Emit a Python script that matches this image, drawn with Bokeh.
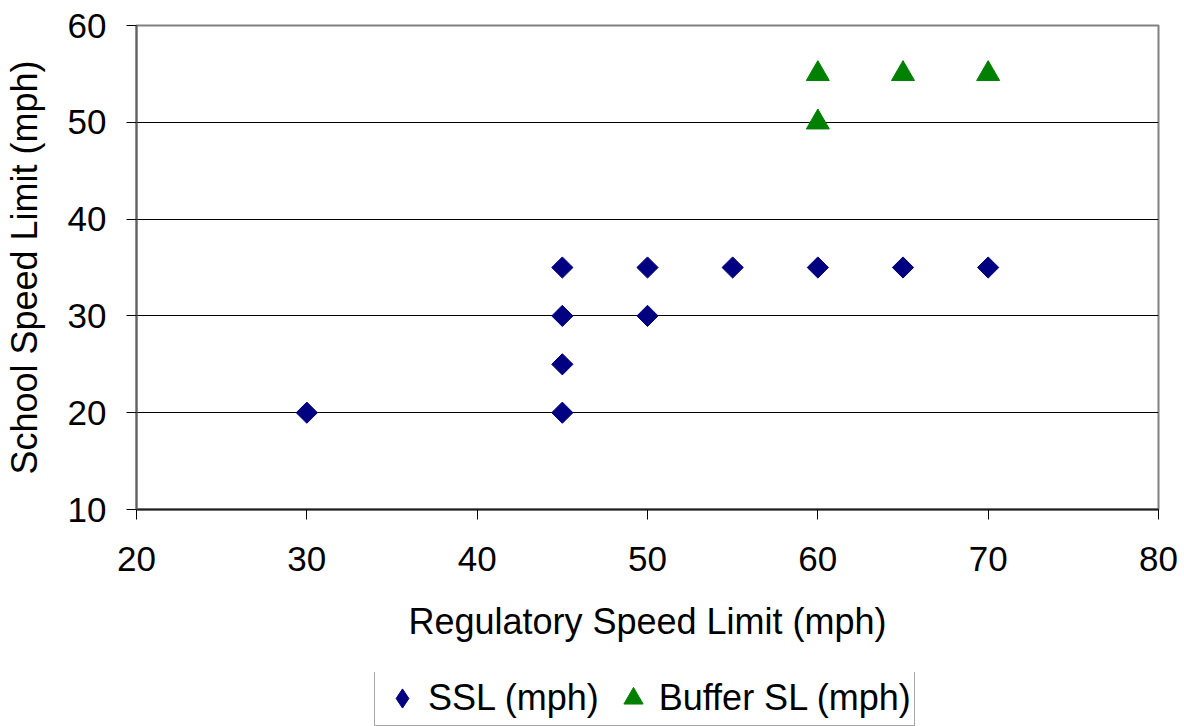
import math
from bokeh.plotting import figure
from bokeh.layouts import column
from bokeh.models import Legend, LegendItem, Range1d, FixedTicker
from bokeh.embed import file_html
from bokeh.resources import INLINE

# School speed limit vs. regulatory speed limit
ssl_x = [30, 45, 45, 45, 45, 50, 50, 55, 60, 65, 70]
ssl_y = [20, 20, 25, 30, 35, 30, 35, 35, 35, 35, 35]
buffer_x = [60, 60, 65, 70]
buffer_y = [50, 55, 55, 55]
x_ticks = [20, 30, 40, 50, 60, 70, 80]
y_ticks = [10, 20, 30, 40, 50, 60]

FONT = "Liberation Sans"
SSL_COLOR = "#000080"
BUF_COLOR = "#008000"

p = figure(width=1184, height=672, output_backend="svg", toolbar_location=None,
           x_range=Range1d(20, 80), y_range=Range1d(10, 60),
           min_border_left=134, min_border_right=26, min_border_top=25, min_border_bottom=163)
p.background_fill_color = "white"
p.border_fill_color = "white"
p.outline_line_color = "#808080"
p.outline_line_width = 2

p.xaxis.ticker = FixedTicker(ticks=x_ticks)
p.yaxis.ticker = FixedTicker(ticks=y_ticks)
p.xgrid.visible = False
p.ygrid.grid_line_color = "black"
p.ygrid.grid_line_width = 1

for ax in (p.xaxis[0], p.yaxis[0]):
    ax.major_label_text_font = FONT
    ax.major_label_text_font_size = "35px"
    ax.major_label_text_color = "black"
    ax.axis_label_text_font = FONT
    ax.axis_label_text_font_size = "36px"
    ax.axis_label_text_font_style = "normal"
    ax.axis_label_text_color = "black"
    ax.major_tick_out = 10
    ax.major_tick_in = 0
    ax.minor_tick_out = 0
    ax.minor_tick_in = 0
    ax.major_tick_line_color = "black"
    ax.axis_line_width = 2

p.xaxis.axis_line_color = "#202020"
p.yaxis.axis_line_color = "#606060"
p.xaxis.axis_label = "Regulatory Speed Limit (mph)"
p.yaxis.axis_label = "School Speed Limit (mph)"
p.xaxis.major_label_standoff = 27
p.yaxis.major_label_standoff = 20
p.xaxis.axis_label_standoff = 27
p.yaxis.axis_label_standoff = 20

# square markers turned 45 degrees give the diamond shape
p.scatter(ssl_x, ssl_y, marker="square", angle=math.pi / 4, size=15,
          fill_color=SSL_COLOR, line_color=SSL_COLOR)
p.scatter(buffer_x, buffer_y, marker="triangle", size=23,
          fill_color=BUF_COLOR, line_color=BUF_COLOR)

# legend strip under the chart; its series sit outside the strip's view,
# so only the legend entries show
lf = figure(width=1184, height=54, output_backend="svg", toolbar_location=None,
            x_range=Range1d(0, 1), y_range=Range1d(0, 1),
            x_axis_type=None, y_axis_type=None, min_border=0)
lf.outline_line_color = None
lf.xgrid.visible = False
lf.ygrid.visible = False
lf.background_fill_color = "white"
lf.border_fill_color = "white"
l_ssl = lf.scatter(ssl_x, ssl_y, marker="diamond", size=20,
                   fill_color=SSL_COLOR, line_color=SSL_COLOR)
l_buf = lf.scatter(buffer_x, buffer_y, marker="triangle", size=20,
                   fill_color=BUF_COLOR, line_color=BUF_COLOR)

legend = Legend(items=[LegendItem(label="SSL (mph)", renderers=[l_ssl]),
                       LegendItem(label="Buffer SL (mph)", renderers=[l_buf])],
                orientation="horizontal", location=(238, 0))
legend.label_text_font = FONT
legend.label_text_font_size = "36px"
legend.label_text_color = "black"
legend.border_line_color = "#505050"
legend.border_line_width = 1
legend.background_fill_color = "white"
legend.glyph_width = 48
legend.glyph_height = 48
legend.spacing = 10
legend.padding = 3
legend.margin = 0
legend.label_standoff = 2
lf.add_layout(legend, "center")

layout = column(p, lf, spacing=0)
open("out.html", "w").write(file_html(layout, INLINE))
